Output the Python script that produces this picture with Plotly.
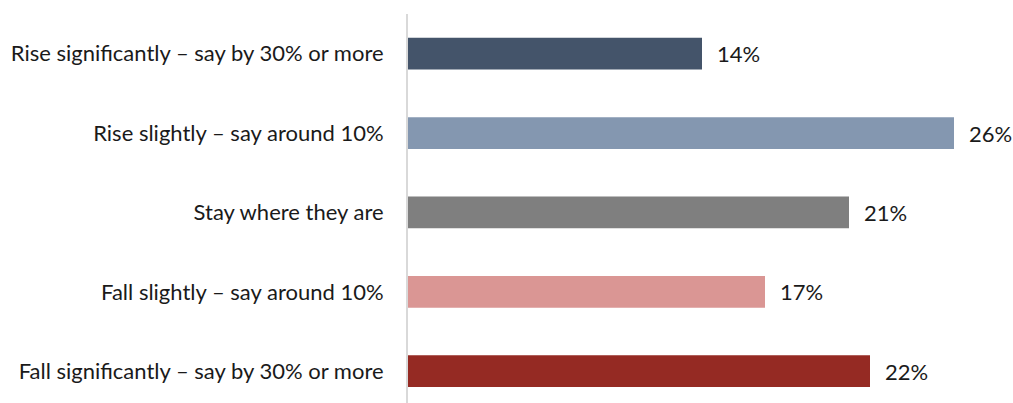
import plotly.graph_objects as go

categories = [
    "Rise significantly – say by 30% or more",
    "Rise slightly – say around 10%",
    "Stay where they are",
    "Fall slightly – say around 10%",
    "Fall significantly – say by 30% or more",
]
values = [14, 26, 21, 17, 22]
colors = ["#44546A", "#8497B0", "#7F7F7F", "#DA9694", "#952A23"]
labels = [f"{v}%" for v in values]

font_family = "Lato, Carlito, Calibri, sans-serif"
font_size = 22

fig = go.Figure(
    go.Bar(
        y=categories,
        x=values,
        orientation="h",
        marker=dict(color=colors, line=dict(width=0)),
        width=0.4,
        hoverinfo="x+y",
    )
)

# value labels placed just past the end of each bar
for cat, val, lab in zip(categories, values, labels):
    fig.add_annotation(
        x=val,
        y=cat,
        text=lab,
        showarrow=False,
        xanchor="left",
        xshift=13,
        font=dict(family=font_family, size=font_size, color="#1a1a1a"),
    )

fig.update_layout(
    width=1013,
    height=403,
    margin=dict(l=408, r=17, t=14, b=0),
    paper_bgcolor="white",
    plot_bgcolor="white",
    showlegend=False,
    font=dict(family=font_family, size=font_size, color="#1a1a1a"),
)
fig.update_xaxes(
    range=[0, 28],
    showgrid=False,
    zeroline=False,
    showticklabels=False,
    showline=False,
)
fig.update_yaxes(
    type="category",
    range=[4.4, -0.5],
    showgrid=False,
    zeroline=False,
    showline=True,
    linecolor="#D9D9D9",
    linewidth=2,
    ticks="",
    ticklabelstandoff=18,
    tickfont=dict(family=font_family, size=font_size, color="#1a1a1a"),
)

fig.write_html("out.html")
